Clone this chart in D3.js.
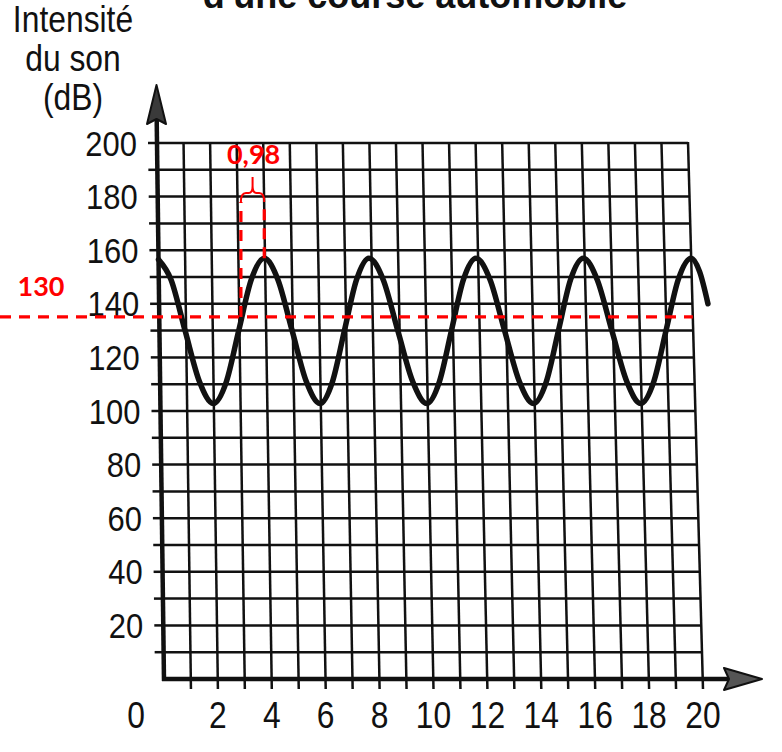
<!DOCTYPE html>
<html>
<head>
<meta charset="utf-8">
<script src="https://cdn.jsdelivr.net/npm/d3@7/dist/d3.min.js"></script>
<style>
  html,body{margin:0;padding:0;background:#fff;}
  svg{display:block;}
</style>
</head>
<body>
<div id="chart"></div>
<script>
// ---- data ----
const yAxisTitle = ["Intensité", "du son", "(dB)"];
const chartTitle = "d'une course automobile";
const yTickLabels = [20, 40, 60, 80, 100, 120, 140, 160, 180, 200];
const xTickLabels = [0, 2, 4, 6, 8, 10, 12, 14, 16, 18, 20];
// time (s) and sound intensity (dB) along the drawn curve
const curveTime = [0, 0.46, 0.96, 1.47, 1.98, 2.48, 2.97, 3.47, 3.97, 4.47, 4.97, 5.47, 5.97,
  6.45, 6.93, 7.42, 7.9, 8.42, 8.93, 9.45, 9.96, 10.45, 10.94, 11.43, 11.92,
  12.43, 12.93, 13.44, 13.95, 14.45, 14.95, 15.45, 15.95, 16.45, 16.95, 17.46, 17.96,
  18.47, 18.98, 19.49, 20.0, 20.3, 20.58];
const curveDb = [156.5, 149, 130, 111, 102.8, 111, 130, 149, 157, 149, 130, 111, 102.8,
  111, 130, 149, 157, 149, 130, 111, 102.8, 111, 130, 149, 157,
  149, 130, 111, 102.8, 111, 130, 149, 157, 149, 130, 111, 102.8,
  111, 130, 149, 157, 152, 140];
// red annotation
const refLevel = 135.1;          // dashed red level line
const refLabel = "130";
const spanStart = 3.06;          // crossing of the level line
const spanEnd = 3.97;            // next peak
const spanPeakDb = 157;
const spanLabel = "0,98";

// ---- layout ----
const W = 782, H = 752;
const svg = d3.select("#chart").append("svg").attr("width", W).attr("height", H);

const y = d3.scaleLinear().domain([0, 200]).range([679, 143]);
const xf = d3.scaleLinear().domain([0, 20]).range([0, 1]);
// the scanned grid is slightly sheared: left/right edges as a function of pixel y
const leftEdge = d3.scaleLinear().domain([679, 143]).range([164, 157]);
const rightEdge = d3.scaleLinear().domain([679, 143]).range([703, 688]);
function P(t, v) {
  const py = y(v);
  const l = leftEdge(py), r = rightEdge(py);
  return [l + xf(t) * (r - l), py];
}

const ink = "#111";
const sans = "'Liberation Sans',Arial,sans-serif";
const squeeze = 0.86;   // condensed look of the printed labels

function condensedText(sel, xFn, yFn, anchor, size) {
  return sel.attr("transform", (d, i) => `translate(${xFn(d, i)},${yFn(d, i)}) scale(${squeeze},1)`)
    .attr("text-anchor", anchor).attr("font-family", sans).attr("font-size", size).attr("fill", ink);
}

// title (cropped at the top, as in the scan)
svg.append("text").attr("x", 415).attr("y", 8).attr("text-anchor", "middle")
  .attr("font-family", sans).attr("font-weight", "bold")
  .attr("font-size", 36).attr("fill", ink).text(chartTitle);

// y axis title
condensedText(svg.append("g").selectAll("text").data(yAxisTitle).join("text"),
  () => 73, (d, i) => 32 + i * 39, "middle", 37).text(d => d);

// grid
const g = svg.append("g");
const hVals = d3.range(10, 201, 10);
const tVals = d3.range(1, 21, 1);
g.selectAll("line.h").data(hVals).join("line").attr("class", "h")
  .attr("x1", d => P(0, d)[0]).attr("y1", d => P(0, d)[1])
  .attr("x2", d => P(20, d)[0]).attr("y2", d => P(20, d)[1])
  .attr("stroke", ink).attr("stroke-width", 2.5);
g.selectAll("line.v").data(tVals).join("line").attr("class", "v")
  .attr("x1", d => P(d, 200)[0]).attr("y1", d => P(d, 200)[1] - 1)
  .attr("x2", d => P(d, 0)[0]).attr("y2", d => P(d, 0)[1] + 10)
  .attr("stroke", ink).attr("stroke-width", 2.5);
// y ticks
g.selectAll("line.yt").data(hVals).join("line").attr("class", "yt")
  .attr("x1", d => P(0, d)[0] - 9).attr("y1", d => P(0, d)[1])
  .attr("x2", d => P(0, d)[0]).attr("y2", d => P(0, d)[1])
  .attr("stroke", ink).attr("stroke-width", 2.5);

// axes
svg.append("line").attr("x1", P(0, 0)[0]).attr("y1", 681)
  .attr("x2", leftEdge(118)).attr("y2", 118).attr("stroke", ink).attr("stroke-width", 4.5);
svg.append("polygon")
  .attr("points", [[156.5, 85], [147, 124], [156.5, 119], [166, 124]].map(p => p.join(",")).join(" "))
  .attr("fill", "#3a3a3a").attr("stroke", ink).attr("stroke-width", 2).attr("stroke-linejoin", "round");
svg.append("line").attr("x1", P(0, 0)[0] - 2).attr("y1", 679)
  .attr("x2", 728).attr("y2", 679).attr("stroke", ink).attr("stroke-width", 4.5);
svg.append("polygon")
  .attr("points", [[724, 668], [762, 679], [724, 690], [729, 679]].map(p => p.join(",")).join(" "))
  .attr("fill", "#555").attr("stroke", ink).attr("stroke-width", 2).attr("stroke-linejoin", "round");

// tick labels
condensedText(svg.append("g").selectAll("text").data(yTickLabels).join("text"),
  d => P(0, d)[0] - 20, d => y(d) + 12.5, "end", 36).text(d => d);
condensedText(svg.append("g").selectAll("text").data(xTickLabels).join("text"),
  d => d === 0 ? P(0, 0)[0] - 28 : P(d, 0)[0], () => 728, "middle", 37).text(d => d);

// curve
const pts = curveTime.map((t, i) => P(t, curveDb[i]));
svg.append("path").attr("d", d3.line().curve(d3.curveMonotoneX)(pts))
  .attr("fill", "none").attr("stroke", ink).attr("stroke-width", 5.5)
  .attr("stroke-linecap", "round").attr("stroke-linejoin", "round");

// red annotation
const red = "#ff0000";
const ry = y(refLevel);
svg.append("line").attr("x1", 0).attr("y1", ry).attr("x2", P(20, refLevel)[0]).attr("y2", ry)
  .attr("stroke", red).attr("stroke-width", 3.2).attr("stroke-dasharray", "11,8");
const xl = P(spanStart, refLevel)[0];
const xr = P(spanEnd, spanPeakDb)[0];
const braceY = 202;
svg.append("line").attr("x1", xl).attr("y1", ry).attr("x2", xl).attr("y2", braceY)
  .attr("stroke", red).attr("stroke-width", 3.2).attr("stroke-dasharray", "11,8");
svg.append("line").attr("x1", xr).attr("y1", y(spanPeakDb)).attr("x2", xr).attr("y2", braceY)
  .attr("stroke", red).attr("stroke-width", 3.2).attr("stroke-dasharray", "11,8");
const xm = (xl + xr) / 2;
const bp = d3.path();
bp.moveTo(xl, braceY);
bp.quadraticCurveTo(xl, braceY - 9, xl + 5, braceY - 9);
bp.lineTo(xm - 4, braceY - 9);
bp.quadraticCurveTo(xm, braceY - 9, xm, braceY - 16);
bp.lineTo(xm, braceY - 25);
bp.moveTo(xm, braceY - 16);
bp.quadraticCurveTo(xm, braceY - 9, xm + 4, braceY - 9);
bp.lineTo(xr - 5, braceY - 9);
bp.quadraticCurveTo(xr, braceY - 9, xr, braceY);
svg.append("path").attr("d", bp.toString()).attr("fill", "none")
  .attr("stroke", red).attr("stroke-width", 2);
svg.append("text").attr("x", xm + 1).attr("y", 164).attr("text-anchor", "middle")
  .attr("font-family", "Lato,'Liberation Sans',sans-serif").attr("font-weight", "bold")
  .attr("font-size", 27).attr("fill", red).text(spanLabel);
svg.append("text").attr("x", 41).attr("y", 296).attr("text-anchor", "middle")
  .attr("font-family", "Lato,'Liberation Sans',sans-serif").attr("font-weight", "bold")
  .attr("font-size", 27).attr("fill", red).text(refLabel);
</script>
</body>
</html>
